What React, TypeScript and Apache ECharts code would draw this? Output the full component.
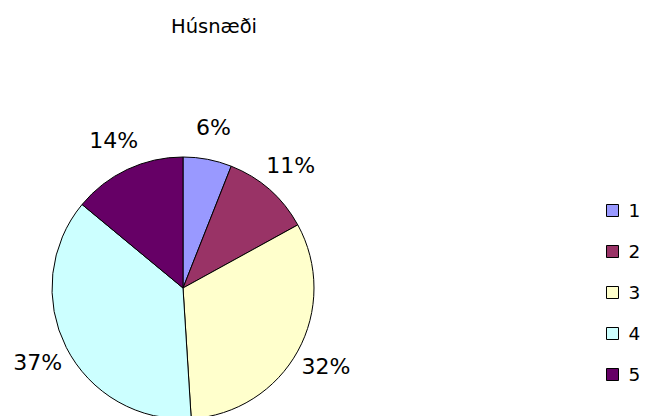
import React, { useEffect, useRef } from "react";
import * as echarts from "echarts";

const categories = ["1", "2", "3", "4", "5"];
const values = [6, 11, 32, 37, 14];
const colors = ["#9999FF", "#993366", "#FFFFCC", "#CCFFFF", "#660066"];
const titleText = "Húsnæði";

export default function App() {
  const ref = useRef<HTMLDivElement>(null);
  useEffect(() => {
    document.body.style.margin = "0";
    const chart = echarts.init(ref.current!, null, { renderer: "svg" });
    chart.setOption({
      animation: false,
      backgroundColor: "#ffffff",
      title: {
        text: titleText,
        left: 166,
        top: 11,
        padding: 5,
        textStyle: {
          fontFamily: "DejaVu Sans",
          fontSize: 19.5,
          fontWeight: "normal",
          color: "#000",
        },
      },
      legend: {
        orient: "vertical",
        left: 606,
        top: 201,
        padding: 0,
        itemWidth: 12,
        itemHeight: 12,
        itemGap: 22,
        icon: "rect",
        data: categories,
        itemStyle: { borderColor: "#000", borderWidth: 1 },
        textStyle: {
          fontFamily: "DejaVu Sans",
          fontSize: 18.5,
          color: "#000",
          padding: [0, 0, 0, 5],
        },
      },
      series: [
        {
          type: "pie",
          center: [183, 288],
          radius: 131,
          startAngle: 90,
          clockwise: true,
          avoidLabelOverlap: false,
          itemStyle: { borderColor: "#000", borderWidth: 1 },
          label: {
            show: true,
            position: "outside",
            formatter: "{c}%",
            fontFamily: "DejaVu Sans",
            fontSize: 22,
            color: "#000",
            distanceToLabelLine: 0,
          },
          labelLine: { show: false, length: 32, length2: 0 },
          labelLayout: () => ({ align: "center", verticalAlign: "middle" }),
          emphasis: { disabled: true },
          data: categories.map((c, i) => ({
            name: c,
            value: values[i],
            itemStyle: { color: colors[i] },
          })),
        },
      ],
    });
    return () => chart.dispose();
  }, []);
  return <div ref={ref} style={{ width: 646, height: 416 }} />;
}
